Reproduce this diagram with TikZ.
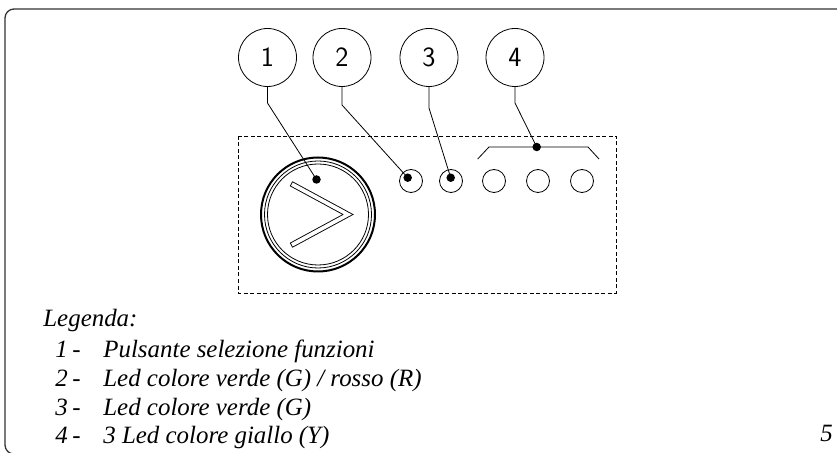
\documentclass[tikz,border=0pt]{standalone}
\usepackage{fontspec}
\newfontfamily\legfont{Liberation Serif}
\usepackage{tikz}
\usetikzlibrary{positioning}
\tikzset{tag/.style = {circle, draw, inner sep=0pt, minimum size=58bp, line width=.8bp, font=\sffamily\fontsize{28}{28}\selectfont},
  led/.style = {circle, draw, inner sep=0pt, minimum size=23bp, line width=.8bp},
  dot/.style = {circle, fill, inner sep=0pt, minimum size=8.5bp},
  legtext/.style = {anchor=base west, inner sep=0pt, font=\legfont\itshape\fontsize{25}{29}\selectfont}}

\begin{document}
\begin{tikzpicture}[x=1bp, y=-1bp, line width=.8bp]
\useasboundingbox (0,0) rectangle (837,453);
\clip (0,0) rectangle (837,453);
\draw[line width=1.3bp, black!80, rounded corners=9bp] (5,9) rectangle (900,454);
\draw[dash pattern=on 4bp off 2.5bp] (238,136) rectangle (616,293);

% push button
\draw[line width=2bp] (318,214.5) circle (57);
\draw (318,214.5) circle (53.5);
\draw (318,214.5) circle (50.5);
\draw[line width=5.5bp, line cap=rect, miter limit=20] (293.5,185) -- (348,214.5) -- (293.5,244);
\draw[line width=3.7bp, line cap=rect, white, miter limit=20] (293.5,185) -- (348,214.5) -- (293.5,244);

\node[led] (l2) at (411,181) {};
\node[led] (l3) at (451,181) {};
\node[led] (l4) at (494,181) {};
\node[led] (l5) at (538,181) {};
\node[led] (l6) at (582,181) {};

\node[dot] (d1) at (316.5,179.5) {};
\node[dot] (d2) at (407.7,177.7) {};
\node[dot] (d3) at (450.7,177.7) {};
\node[dot] (d4) at (536.7,147) {};

\node[tag] (t1) at (267.5,57.5) {1};
\node[tag] (t2) at (342,57.5) {2};
\node[tag] (t3) at (429,57.5) {3};
\node[tag] (t4) at (515,57.5) {4};

\coordinate (k1) at (267.5,103);
\coordinate (k2) at (342,105);
\coordinate (k3) at (429,108);
\coordinate (k4) at (515,103);
\draw (t1.south) -- (k1) -- (d1.center);
\draw (t2.south) -- (k2) -- (d2.center);
\draw (t3.south) -- (k3) -- (d3.center);
\draw (t4.south) -- (k4) -- (d4.center);
\draw (477.7,159) -- (489,147) -- (d4.center) -- (588,147) -- (599,159);

% legend
\node[legtext] (leg) at (43,326.7) {Legenda:};
\node[legtext] (n1) at (55,357.5) {1};
\node[legtext] (n2) at (55,386.5) {2};
\node[legtext] (n3) at (55,415) {3};
\node[legtext] (n4) at (55,443.3) {4};
\node[legtext] (h1) at (72,357.5) {-};
\node[legtext] (h2) at (72,386.5) {-};
\node[legtext] (h3) at (72,415) {-};
\node[legtext] (h4) at (72,443.3) {-};
\node[legtext] (e1) at (103,357.5) {Pulsante selezione funzioni};
\node[legtext] (e2) at (103,386.5) {Led colore verde (G) / rosso (R)};
\node[legtext] (e3) at (103,415) {Led colore verde (G)};
\node[legtext] (e4) at (103,443.3) {3 Led colore giallo (Y)};
\node[legtext] (pg) at (820,441.7) {5};
\end{tikzpicture}
\end{document}
